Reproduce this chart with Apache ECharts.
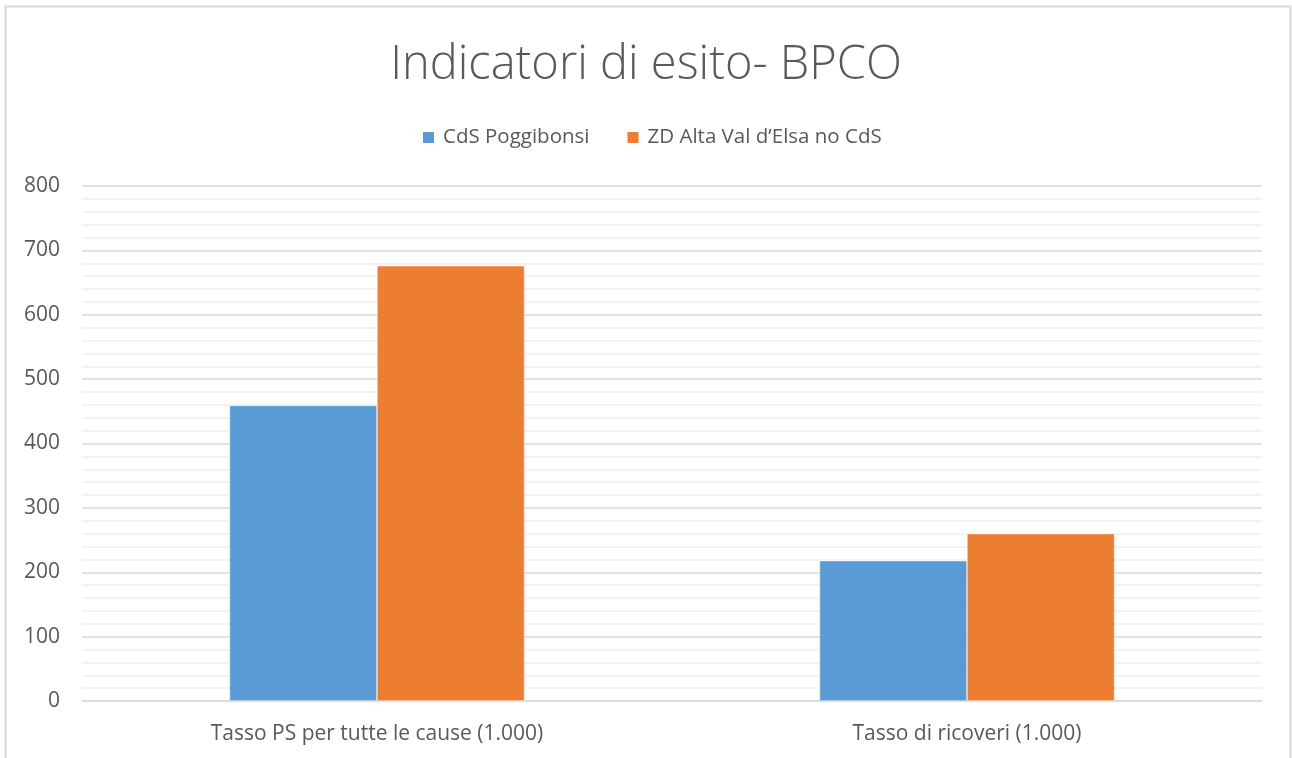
<!DOCTYPE html>
<html><head><meta charset="utf-8">
<script src="https://cdn.jsdelivr.net/npm/echarts@6/dist/echarts.min.js"></script>
<style>html,body{margin:0;padding:0;background:#fff}#c{width:1292px;height:758px}</style>
</head><body><div id="c"></div>
<script>
const categories = ['Tasso PS per tutte le cause (1.000)', 'Tasso di ricoveri (1.000)'];
const seriesNames = ['CdS Poggibonsi', 'ZD Alta Val d\u2019Elsa no CdS'];
const poggibonsi = [459, 218];
const altaValdelsa = [676, 260];
const yTicks = [0, 100, 200, 300, 400, 500, 600, 700, 800];

const font = "'Open Sans', 'Liberation Sans', sans-serif";
const chart = echarts.init(document.getElementById('c'));
chart.setOption({
  animation: false,
  backgroundColor: '#fff',
  graphic: [{
    type: 'rect', shape: {x: 5.5, y: 6.5, width: 1285, height: 820},
    style: {fill: 'none', stroke: '#d9d9d9', lineWidth: 2}, silent: true
  }],
  title: {
    text: 'Indicatori di esito- BPCO', left: 'center', top: 37,
    textStyle: {fontFamily: font, fontWeight: 300, fontSize: 47, color: '#595959'}
  },
  legend: {
    top: 122, left: 416, itemWidth: 13, itemHeight: 13, itemGap: 36,
    icon: 'rect',
    textStyle: {fontFamily: font, fontSize: 20.5, color: '#595959', padding: [0, 0, 0, 3]},
    data: seriesNames
  },
  grid: {left: 82, right: 30, top: 186, bottom: 57, containLabel: false},
  xAxis: {
    type: 'category', data: categories,
    axisLine: {show: true, lineStyle: {color: '#d9d9d9', width: 1.5}},
    axisTick: {show: false},
    axisLabel: {fontFamily: font, fontSize: 21, color: '#595959', margin: 23}
  },
  yAxis: {
    type: 'value', min: yTicks[0], max: yTicks[yTicks.length - 1], interval: 100,
    axisLine: {show: false}, axisTick: {show: false},
    axisLabel: {fontFamily: font, fontSize: 21, color: '#595959', margin: 22},
    splitLine: {lineStyle: {color: '#d9d9d9', width: 1.5}},
    minorTick: {show: false, splitNumber: 5},
    minorSplitLine: {show: true, lineStyle: {color: '#f0f0f0', width: 1.5}}
  },
  series: [
    {name: seriesNames[0], type: 'bar', data: poggibonsi, barWidth: '25%', barGap: '0%',
     itemStyle: {color: '#5b9bd5', borderColor: '#fff', borderWidth: 0.5}},
    {name: seriesNames[1], type: 'bar', data: altaValdelsa, barWidth: '25%', barGap: '0%',
     itemStyle: {color: '#ed7d31', borderColor: '#fff', borderWidth: 0.5}}
  ]
});
</script></body></html>
